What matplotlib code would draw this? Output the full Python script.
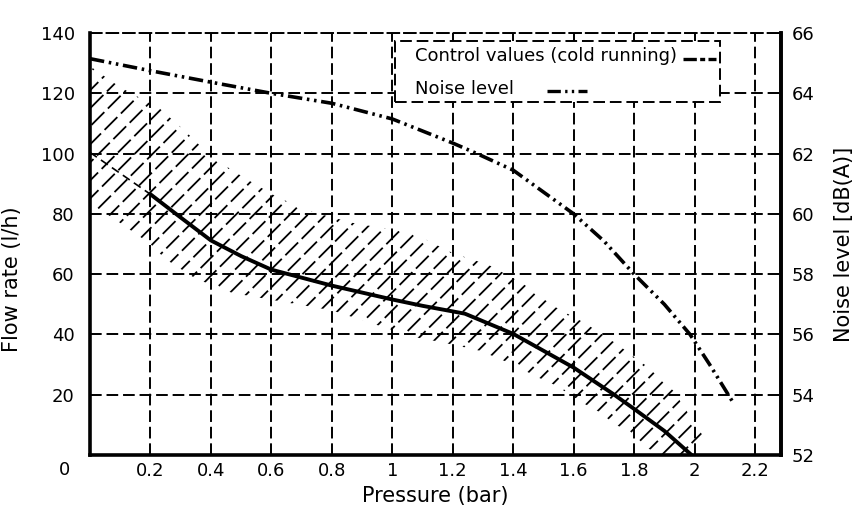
import numpy as np
import matplotlib
matplotlib.use("Agg")
import matplotlib.pyplot as plt
from matplotlib.patches import Rectangle
from matplotlib.lines import Line2D

plt.rcParams['font.family'] = ['DejaVu Sans']

# control values (flow rate, left axis)
press_ctrl = [0.2, 0.3, 0.4, 0.5, 0.6, 0.8, 1.0, 1.1, 1.24, 1.4, 1.6, 1.73, 1.8, 1.9, 1.99]
flow_ctrl = [86.5, 78.8, 71.2, 66.0, 61.5, 56.2, 51.6, 49.5, 46.9, 40.2, 29.0, 20.3, 15.3, 8.0, 0.0]
# thin dashed start of the control curve
press_start = [0.0, 0.2]
flow_start = [100.4, 86.5]

# noise level (right axis)
press_noise = [0.0, 0.2, 0.4, 0.6, 0.8, 1.0, 1.2, 1.28, 1.4, 1.6, 1.7, 1.8, 1.9, 1.985, 2.05, 2.13]
noise = [65.15, 64.75, 64.37, 64.0, 63.67, 63.15, 62.35, 62.0, 61.45, 60.0, 59.1, 58.0, 57.0, 56.0, 55.0, 53.7]

# hatched tolerance band
band_up_x = [0.0, 0.1, 0.23, 0.32, 0.4, 0.51, 0.62, 0.74, 0.87, 1.07, 1.2, 1.32, 1.43, 1.53, 1.64, 1.74, 1.84, 1.93, 2.03, 2.0]
band_up_y = [129, 122, 115, 107, 99, 92, 85.5, 80.5, 77, 73.5, 67, 63, 57, 49.6, 43.6, 37, 29.6, 21.3, 6, 0]
band_lo_x = [0.0, 0.055, 0.1, 0.2, 0.25, 0.35, 0.47, 0.8, 1.0, 1.08, 1.16, 1.29, 1.41, 1.47, 1.53, 1.58, 1.63, 1.69, 1.73, 1.79, 1.83, 1.89]
band_lo_y = [82, 80, 77, 70, 65, 58.5, 53.8, 48, 41.5, 39, 37.5, 34.6, 29.6, 26.3, 23.6, 20.6, 17.3, 14, 10.6, 7.3, 3, 0]

xticks = [0.2, 0.4, 0.6, 0.8, 1.0, 1.2, 1.4, 1.6, 1.8, 2.0, 2.2]
xticklabels = ['0.2', '0.4', '0.6', '0.8', '1', '1.2', '1.4', '1.6', '1.8', '2', '2.2']
yticks = [20, 40, 60, 80, 100, 120, 140]
y2ticks = [52, 54, 56, 58, 60, 62, 64, 66]

fig = plt.figure(figsize=(8.57, 5.18), dpi=100)
ax = fig.add_axes([0.105, 0.1216, 0.806, 0.8146])
ax.set_xlim(0, 2.285)
ax.set_ylim(0, 140)

grid_ls = (0, (6, 2.5))
ax.set_xticks(xticks)
ax.set_xticklabels(xticklabels)
ax.set_yticks(yticks)
ax.grid(True, color='black', linewidth=1.4, linestyle=grid_ls)
ax.tick_params(axis='y', length=0, labelsize=13, pad=11)
ax.tick_params(axis='x', length=0, labelsize=13, pad=5)

for s in ['left', 'bottom', 'right']:
    ax.spines[s].set_linewidth(2.6)
ax.spines['top'].set_linewidth(1.4)
ax.spines['top'].set_linestyle(grid_ls)

# band with dashed diagonal hatching (45 deg on screen)
poly = ax.fill(np.concatenate([band_up_x, band_lo_x[::-1]]),
               np.concatenate([band_up_y, band_lo_y[::-1]]),
               facecolor='none', edgecolor='none')[0]
slope = 100.6
xs = np.array([3.0, -2.0])
period = 12.8
for i, x0 in enumerate(np.arange(-1.5, 2.3, 0.0595)):
    phase = ((i * i * 0.371 + i * 0.13) % 1.0) * period   # break up dash alignment
    ln, = ax.plot(xs, slope * (xs - x0), color='black', linewidth=1.3,
                  linestyle=(phase, (10, 2.8)), zorder=2)
    ln.set_clip_path(poly)

ax.plot(press_start, flow_start, color='black', linewidth=1.2, linestyle=(0, (5, 3)), zorder=3)
ax.plot(press_ctrl, flow_ctrl, color='black', linewidth=2.8, zorder=4)

ax.annotate('0', xy=(0, 0), xycoords='data', xytext=(-18, -11), textcoords='offset points',
            ha='center', va='center', fontsize=13)

ax.set_xlabel('Pressure (bar)', fontsize=15, labelpad=4)
ax.set_ylabel('Flow rate (l/h)', fontsize=15)
ax.yaxis.set_label_coords(-0.098, 0.416)

ax2 = ax.twinx()
ax2.set_ylim(52, 66)
ax2.set_yticks(y2ticks)
ax2.tick_params(length=0, labelsize=13, pad=8)
ax2.spines['right'].set_linewidth(2.6)
ax2.spines['left'].set_visible(False)
ax2.spines['top'].set_visible(False)
ax2.spines['bottom'].set_visible(False)
ax2.plot(press_noise, noise, color='black', linewidth=2.6,
         linestyle=(0, (4, 1.3, 0.7, 1.3, 0.7, 1.3)), zorder=4)
ax2.set_ylabel('Noise level [dB(A)]', fontsize=15, labelpad=14)

# legend box drawn by hand
ax2.add_patch(Rectangle((0.441, 0.836), 0.471, 0.145, transform=ax.transAxes,
                        facecolor='white', edgecolor='black', linewidth=1.4,
                        linestyle=grid_ls, zorder=5))
ax2.text(0.47, 0.945, 'Control values (cold running)', transform=ax.transAxes,
         fontsize=13, va='center', ha='left', zorder=6)
ax2.text(0.47, 0.867, 'Noise level', transform=ax.transAxes,
         fontsize=13, va='center', ha='left', zorder=6)
ax2.add_line(Line2D([0.858, 0.906], [0.938, 0.938], transform=ax.transAxes, color='black',
                    linewidth=2.4, linestyle=(0, (4, 1, 1.5, 1)), zorder=6))
ax2.add_line(Line2D([0.661, 0.719], [0.862, 0.862], transform=ax.transAxes, color='black',
                    linewidth=2.4, linestyle=(0, (4, 1.3, 0.7, 1.3, 0.7, 1.3)), zorder=6))

fig.savefig('out.png', dpi=100)
